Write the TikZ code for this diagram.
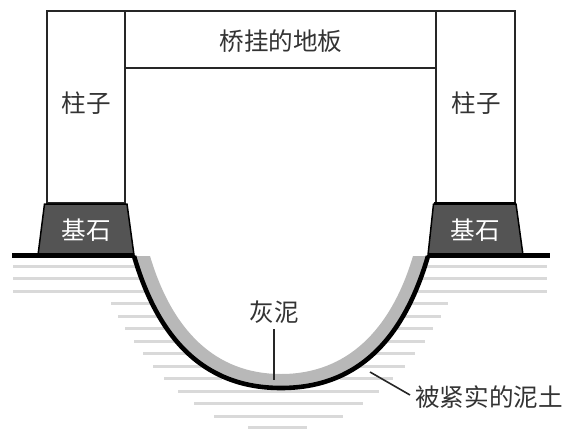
\documentclass[tikz,border=0pt]{standalone}
\usepackage{fontspec}
\setmainfont{Noto Sans CJK SC}
\tikzset{
  part/.style={draw=black!85,line width=1.5pt,fill=white},
  basestone/.style={draw=black,line width=1.5pt,fill=black!67},
  hatch/.style={draw=black!15,line width=3pt},
  label/.style={inner sep=0pt,font=\fontsize{24.6}{25}\selectfont,text=black!80},
  leader/.style={draw=black!85,line width=1.6pt},
  ground/.style={draw=black,line width=4.2pt},
}
\begin{document}
\begin{tikzpicture}[x=1pt,y=-1pt]
\useasboundingbox (0,0) rectangle (567,428);
% hatching
\foreach \y/\a/\b in {266/13/138,278.5/13/141,291/13/145,303/111/150,316/118/158,328/125/167,341/134/178,353/143/190,366/153/204,378/164/222,391/178/379,403/194/363,416/214/343,427.5/248/307}{
  \draw[hatch] (\a,\y) -- (\b,\y);
}
\foreach \y/\a/\b in {266/424/547,278.5/421/547,291/417/547,303/412/448,316/404/441,328/395/433,341/384/425,353/372/415,366/358/405,378/340/393}{
  \draw[hatch] (\a,\y) -- (\b,\y);
}
% mud and soil
\fill[black!28] (134,256) -- (150,256) .. controls (172,330) and (215,374) .. (281,374)
  .. controls (347,374) and (391,330) .. (413,256) -- (428,256)
  .. controls (402,345) and (353,388) .. (281,388)
  .. controls (209,388) and (160,345) .. (134,256) -- cycle;
\draw[black,line width=4.6pt] (134,256) .. controls (160,345) and (209,388) .. (281,388)
  .. controls (353,388) and (402,345) .. (428,256);
% structure
\draw[part] (125,11) rectangle (436,68);
\draw[part] (47,11) rectangle (125,203);
\draw[part] (436,11) rectangle (515,203);
\draw[basestone] (44.5,204) -- (127,204) -- (134,255) -- (38,255) -- cycle;
\draw[basestone] (433.5,204) -- (516,204) -- (523,255) -- (428,255) -- cycle;
\draw[black,line width=2.2pt] (433.5,203.5) -- (516,203.5);
\draw[ground] (12,255.5) -- (134,255.5);
\draw[ground] (428,255.5) -- (550,255.5);
% labels
\node[label] (beam) at (281,41) {桥挂的地板};
\node[label] (pl) at (86.5,103) {柱子};
\node[label] (pr) at (476.5,103) {柱子};
\node[label,text=white] (bl) at (86.5,230) {基石};
\node[label,text=white] (br) at (475.5,230) {基石};
\node[label] (mud) at (274,312) {灰泥};
\node[label] (soil) at (489,397) {被紧实的泥土};
\coordinate (mudend) at (274,379.5);
\coordinate (soilend) at (370,372);
\coordinate (soilstart) at (410,395);
\coordinate (mudstart) at (274,329);
\draw[leader] (mudstart) -- (mudend);
\draw[leader] (soilstart) -- (soilend);
\end{tikzpicture}
\end{document}
